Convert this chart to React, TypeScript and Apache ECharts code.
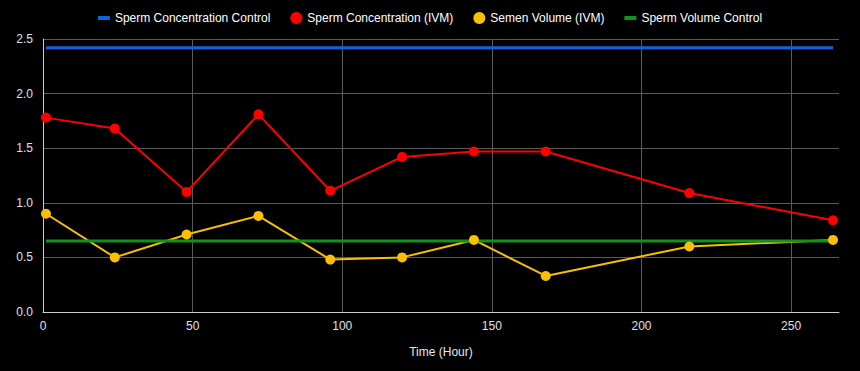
import React, { useEffect, useRef } from "react";
import * as echarts from "echarts";

const hours = [1, 24, 48, 72, 96, 120, 144, 168, 216, 264];
const concentrationIVM = [1.78, 1.68, 1.1, 1.81, 1.11, 1.42, 1.47, 1.47, 1.09, 0.84];
const volumeIVM = [0.9, 0.5, 0.71, 0.88, 0.48, 0.5, 0.66, 0.33, 0.6, 0.66];
const controlHours = [1, 264];
const concentrationControl = [2.42, 2.42];
const volumeControl = [0.65, 0.65];
const xTicks = [0, 50, 100, 150, 200, 250];
const yTicks = [0, 0.5, 1.0, 1.5, 2.0, 2.5];

const names = [
  "Sperm Concentration Control",
  "Sperm Concentration (IVM)",
  "Semen Volume (IVM)",
  "Sperm Volume Control",
];

const lineIcon = "path://M0,0L0,0M12,12L12,12M0,4H12V8H0Z";

export default function App() {
  const ref = useRef<HTMLDivElement>(null);
  useEffect(() => {
    if (!ref.current) return;
    const chart = echarts.init(ref.current, null, { renderer: "svg" });
    const pair = (xs: number[], ys: number[]) => xs.map((x, i) => [x, ys[i]]);
    chart.setOption({
      animation: false,
      backgroundColor: "#000000",
      textStyle: { fontFamily: "Liberation Sans, Arial, sans-serif" },
      legend: {
        top: 7,
        left: "center",
        itemWidth: 12,
        itemHeight: 12,
        itemGap: 20,
        textStyle: { color: "#ffffff", fontSize: 12 },
        data: [
          { name: names[0], icon: lineIcon },
          { name: names[1], icon: "circle" },
          { name: names[2], icon: "circle" },
          { name: names[3], icon: lineIcon },
        ],
      },
      grid: { left: 43, right: 21, top: 39, bottom: 59 },
      xAxis: {
        type: "value",
        min: 0,
        max: 266,
        interval: 50,
        name: "Time (Hour)",
        nameLocation: "middle",
        nameGap: 34,
        nameTextStyle: { color: "#e8e8e8", fontSize: 12 },
        axisLine: { lineStyle: { color: "#cccccc", width: 1 } },
        axisTick: { show: false },
        axisLabel: {
          color: "#e0e0e0",
          fontSize: 12,
          margin: 8,
          customValues: xTicks,
        },
        splitLine: { show: true, showMaxLine: false, lineStyle: { color: "#5a5a5a", width: 1 } },
      },
      yAxis: {
        type: "value",
        min: 0,
        max: 2.5,
        interval: 0.5,
        axisLine: { show: true, lineStyle: { color: "#cccccc", width: 1 } },
        axisTick: { show: false },
        axisLabel: {
          color: "#e0e0e0",
          fontSize: 12,
          margin: 10,
          customValues: yTicks,
          formatter: (v: number) => v.toFixed(1),
        },
        splitLine: { show: true, lineStyle: { color: "#5a5a5a", width: 1 } },
      },
      series: [
        {
          name: names[0],
          type: "line",
          data: pair(controlHours, concentrationControl),
          showSymbol: false,
          lineStyle: { color: "#1463d8", width: 3 },
          itemStyle: { color: "#1463d8" },
        },
        {
          name: names[1],
          type: "line",
          data: pair(hours, concentrationIVM),
          symbol: "circle",
          symbolSize: 10,
          lineStyle: { color: "#ff0000", width: 2 },
          itemStyle: { color: "#ff0000" },
        },
        {
          name: names[2],
          type: "line",
          data: pair(hours, volumeIVM),
          symbol: "circle",
          symbolSize: 10,
          lineStyle: { color: "#f8c000", width: 2 },
          itemStyle: { color: "#f8c000" },
        },
        {
          name: names[3],
          type: "line",
          data: pair(controlHours, volumeControl),
          showSymbol: false,
          lineStyle: { color: "#14901c", width: 3 },
          itemStyle: { color: "#14901c" },
        },
      ],
    });
    return () => chart.dispose();
  }, []);
  return (
    <div
      ref={ref}
      style={{ position: "fixed", left: 0, top: 0, width: 860, height: 371, background: "#000" }}
    />
  );
}
